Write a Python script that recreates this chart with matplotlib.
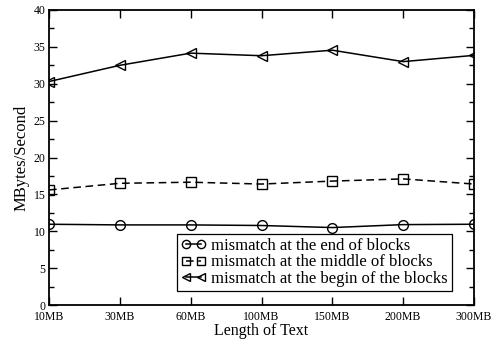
import matplotlib
matplotlib.use("Agg")
import matplotlib.pyplot as plt
from matplotlib.ticker import MultipleLocator

categories = ["10MB", "30MB", "60MB", "100MB", "150MB", "200MB", "300MB"]
end_blocks = [10.95, 10.86, 10.86, 10.78, 10.5, 10.9, 10.95]
middle_blocks = [15.6, 16.5, 16.65, 16.4, 16.8, 17.1, 16.4]
begin_blocks = [30.3, 32.5, 34.15, 33.8, 34.55, 33.0, 33.85]
labels = ["mismatch at the end of blocks",
          "mismatch at the middle of blocks",
          "mismatch at the begin of the blocks"]

plt.rcParams['font.family'] = ['Liberation Serif', 'DejaVu Serif']

fig = plt.figure(figsize=(4.94, 3.39), dpi=100)
ax = fig.add_axes([49/494, 1-305/339, (474-49)/494, (305-10)/339])
x = list(range(len(categories)))
ax.plot(x, end_blocks, '-', color='black', marker='o', fillstyle='none', ms=7, lw=1.1, mew=1.0, label=labels[0])
ax.plot(x, middle_blocks, '--', color='black', marker='s', fillstyle='none', ms=6.5, lw=1.1, mew=1.0, dashes=(5, 3), label=labels[1])
ax.plot(x, begin_blocks, '-', color='black', marker='<', fillstyle='none', ms=7.5, lw=1.1, mew=1.0, label=labels[2])

ax.set_xlim(0, len(categories) - 1)
ax.set_ylim(0, 40)
ax.set_xticks(x)
ax.set_xticklabels(categories, fontsize=8.5)
ax.yaxis.set_major_locator(MultipleLocator(5))
ax.yaxis.set_minor_locator(MultipleLocator(2.5))
ax.tick_params(axis='both', which='both', direction='in', top=True, right=True, labelsize=8.5, width=1.0)
ax.tick_params(axis='both', which='major', length=6)
ax.tick_params(axis='x', which='major', pad=4.5)
ax.tick_params(axis='y', which='major', pad=2.5)
ax.tick_params(axis='y', which='minor', length=3.5)
for s in ax.spines.values():
    s.set_linewidth(1.3)
ax.set_xlabel("Length of Text", fontsize=11.5, labelpad=0)
ax.set_ylabel("MBytes/Second", fontsize=12, labelpad=3)

leg = ax.legend(loc='lower right', numpoints=2, fancybox=False, framealpha=1, edgecolor='black', fontsize=12,
                handlelength=1.5, handletextpad=0.3, borderpad=0.25, labelspacing=0.02, borderaxespad=0,
                markerscale=0.85)
leg.get_frame().set_linewidth(0.9)
leg.set_bbox_to_anchor(((452-49)/(474-49), (305-291)/(305-10)), transform=ax.transAxes)

fig.savefig("out.png", dpi=100)
